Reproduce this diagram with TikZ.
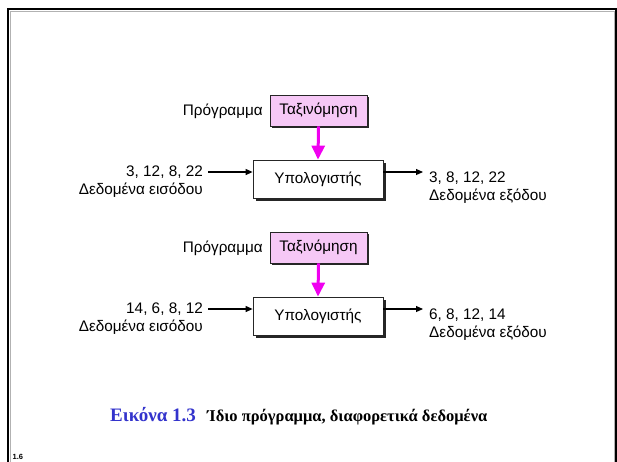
\documentclass[tikz,border=0pt]{standalone}
\usepackage{fontspec}
\setmainfont{Liberation Sans}
\newfontfamily\capfont{Liberation Serif}
\usetikzlibrary{arrows.meta,shadows}
\definecolor{sortpink}{RGB}{246,200,246}
\definecolor{capblue}{RGB}{51,51,204}
\definecolor{mag}{RGB}{240,0,240}
\begin{document}
\begin{tikzpicture}[x=1pt,y=-1pt,
  font=\fontsize{15.3}{17}\selectfont,
  comp/.style={draw=black!85, line width=0.8pt, fill=white, minimum width=130pt, minimum height=38pt, inner sep=0pt,
    drop shadow={shadow xshift=2.5pt, shadow yshift=-2.5pt, fill=black!85, opacity=1}},
  sortbox/.style={draw=black!85, line width=0.8pt, fill=sortpink, minimum width=97pt, minimum height=31pt, inner sep=0pt,
    drop shadow={shadow xshift=2pt, shadow yshift=-2pt, fill=black!85, opacity=1}},
  txt/.style={inner sep=0pt},
  arr/.style={line width=1.1pt, -{Triangle[length=7pt,width=6pt]}},
  progarr/.style={draw=mag, line width=3pt, -{Triangle[length=14pt,width=13pt]}, fill=mag, color=mag},
]
\useasboundingbox (0,0) rectangle (617,461);
% frame
\draw[gray!60, line width=0.6pt] (10.5,462) -- (10.5,11.5) -- (613.8,11.5) -- (613.8,462);
\draw[line width=2.6pt] (8,462) -- (8,9) -- (616,9) -- (616,462);

% group 1
\node[sortbox] (s1) at (318.5,110.5) {Ταξινόμηση};
\node[txt, anchor=east] (p1) at (263,111) {Πρόγραμμα};
\node[comp] (c1) at (318,179) {Υπολογιστής};
\node[txt, anchor=east] (i1) at (203,172) {3, 12, 8, 22};
\node[txt, anchor=east] (i1l) at (203,190) {Δεδομένα εισόδου};
\node[txt, anchor=west] (o1) at (429,178) {3, 8, 12, 22};
\node[txt, anchor=west] (o1l) at (429,196) {Δεδομένα εξόδου};
\coordinate (oe1) at (423,172);
\draw[progarr] (s1.south) -- (c1.north);
\draw[arr] ([xshift=5pt]i1.east) -- (i1.east -| c1.west);
\draw[arr] (c1.east |- oe1) -- (oe1);

% group 2
\node[sortbox] (s2) at (318.5,247.5) {Ταξινόμηση};
\node[txt, anchor=east] (p2) at (263,248) {Πρόγραμμα};
\node[comp] (c2) at (318,316) {Υπολογιστής};
\node[txt, anchor=east] (i2) at (203,309) {14, 6, 8, 12};
\node[txt, anchor=east] (i2l) at (203,327) {Δεδομένα εισόδου};
\node[txt, anchor=west] (o2) at (429,315) {6, 8, 12, 14};
\node[txt, anchor=west] (o2l) at (429,333) {Δεδομένα εξόδου};
\coordinate (oe2) at (423,309);
\draw[progarr] (s2.south) -- (c2.north);
\draw[arr] ([xshift=5pt]i2.east) -- (i2.east -| c2.west);
\draw[arr] (c2.east |- oe2) -- (oe2);

% caption
\node[txt, anchor=base west, text=capblue, font=\capfont\bfseries\fontsize{19}{21}\selectfont] (cap1) at (110,421) {Εικόνα 1.3};
\node[txt, anchor=base west, font=\capfont\bfseries\fontsize{16.5}{18}\selectfont] (cap2) at (207,421) {Ίδιο πρόγραμμα, διαφορετικά δεδομένα};
\node[txt, anchor=base west, font=\bfseries\fontsize{7.5}{9}\selectfont] (pg) at (12.5,459.5) {1.6};
\end{tikzpicture}
\end{document}
